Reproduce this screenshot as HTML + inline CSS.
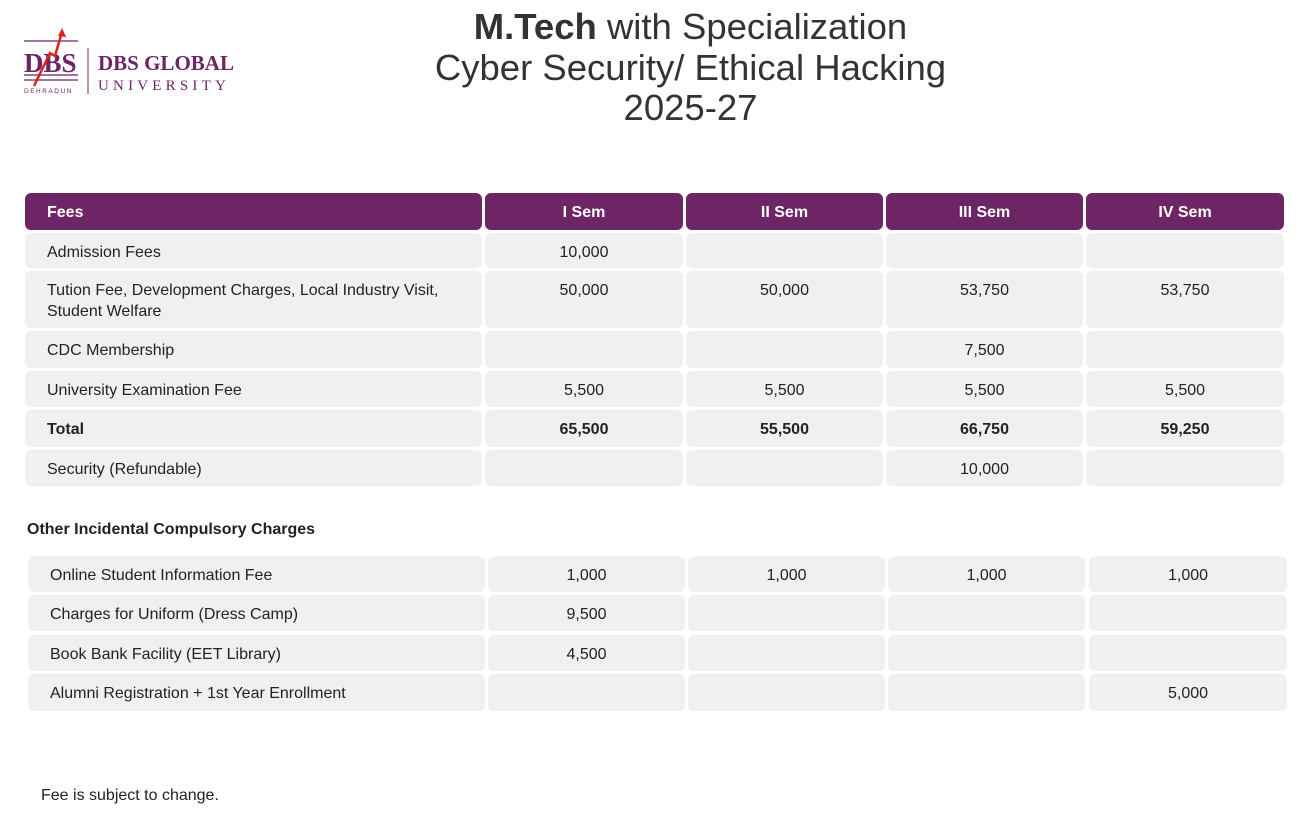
<!DOCTYPE html>
<html><head><meta charset="utf-8"><style>
body{margin:0;width:1308px;height:822px;background:#fff;position:relative;font-family:"Liberation Sans",sans-serif;color:#222;overflow:hidden}
.c{position:absolute;background:#f0f0f0;border-radius:6px;font-size:16px;box-sizing:border-box;padding-top:9px;line-height:21px}
.h{background:#6e2566;color:#fff;font-weight:bold;padding-top:9px}
.l{padding-left:22px;text-align:left}
.n{text-align:center}
.b{font-weight:bold}
.t{position:absolute;left:0;width:1381px;text-align:center;font-size:36.5px;line-height:40px;color:#333}
</style></head><body>
<div style="position:absolute;left:22px;top:28px;width:220px;height:70px">
<svg width="220" height="70" viewBox="0 0 220 70">
<line x1="2" y1="13" x2="56" y2="13" stroke="#6e2566" stroke-width="1.2"/>
<line x1="2" y1="47" x2="56" y2="47" stroke="#6e2566" stroke-width="1.2"/>
<line x1="2" y1="52" x2="56" y2="52" stroke="#6e2566" stroke-width="1.2"/>
<text x="2" y="44" font-family="Liberation Serif" font-size="27" fill="#6e2566" font-weight="bold">DBS</text>
<polyline points="12,58 28,25 33,28 40,4" fill="none" stroke="#e0201b" stroke-width="2.5"/>
<polygon points="40,0 44,9 36,8" fill="#e0201b"/>
<text x="2" y="65" font-size="6.5" letter-spacing="1.5" fill="#6e2566">DEHRADUN</text>
<line x1="66" y1="20" x2="66" y2="66" stroke="#6e2566" stroke-width="1"/>
<text x="76" y="42" font-family="Liberation Serif" font-weight="bold" font-size="21" fill="#6e2566">DBS GLOBAL</text>
<text x="76" y="62" font-family="Liberation Serif" font-size="15" letter-spacing="4.2" fill="#6e2566">UNIVERSITY</text>
</svg></div>
<div class="t" style="top:7px"><b>M.Tech</b> with Specialization</div>
<div class="t" style="top:48px">Cyber Security/ Ethical Hacking</div>
<div class="t" style="top:88px">2025-27</div>
<div style="position:absolute;left:27px;top:521px;font-size:16px;font-weight:bold">Other Incidental Compulsory Charges</div>
<div style="position:absolute;left:41px;top:787px;font-size:16px">Fee is subject to change.</div>
<div id="root"></div>
<script>
const cols1=[[25,482],[485,683],[686,883],[886,1083],[1086,1284]];
const cols2=[[28,485],[488,685],[688,885],[888,1085],[1089,1287]];
const rows1=[[233,268],[271,328],[331,368],[371,407],[410,447],[450,486]];
const rows2=[[556,592],[595,631],[635,671],[674,711]];
const header=["Fees","I Sem","II Sem","III Sem","IV Sem"];
const data1=[
["Admission Fees","10,000","","",""],
["Tution Fee, Development Charges, Local Industry Visit, Student Welfare","50,000","50,000","53,750","53,750"],
["CDC Membership","","","7,500",""],
["University Examination Fee","5,500","5,500","5,500","5,500"],
["Total","65,500","55,500","66,750","59,250"],
["Security (Refundable)","","","10,000",""]];
const data2=[
["Online Student Information Fee","1,000","1,000","1,000","1,000"],
["Charges for Uniform (Dress Camp)","9,500","","",""],
["Book Bank Facility (EET Library)","4,500","","",""],
["Alumni Registration + 1st Year Enrollment","","","","5,000"]];
const root=document.getElementById('root');
function cell(x0,x1,y0,y1,txt,cls){
 const d=document.createElement('div');
 d.className='c '+cls;
 d.style.left=x0+'px';d.style.top=y0+'px';d.style.width=(x1-x0)+'px';d.style.height=(y1-y0)+'px';
 d.textContent=txt;root.appendChild(d);return d;
}
header.forEach((h,i)=>{
 const d=cell(cols1[i][0],cols1[i][1],193,230,h,'h '+(i?'n':'l'));
 
 
});
data1.forEach((r,ri)=>r.forEach((v,ci)=>{
 const d=cell(cols1[ci][0],cols1[ci][1],rows1[ri][0],rows1[ri][1],v,(ci?'n':'l')+(ri==4?' b':''));
 
 
}));
data2.forEach((r,ri)=>r.forEach((v,ci)=>{
 const d=cell(cols2[ci][0],cols2[ci][1],rows2[ri][0],rows2[ri][1],v,ci?'n':'l');
 
 
}));
</script>
</body></html>
